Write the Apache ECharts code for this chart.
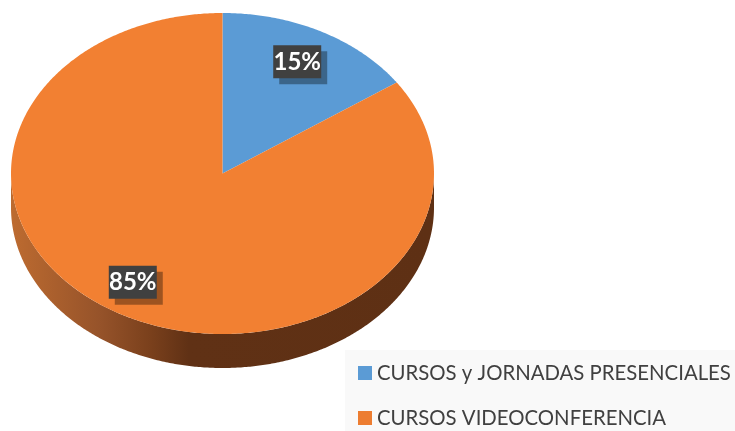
<!DOCTYPE html>
<html>
<head>
<meta charset="utf-8">
<style>
  html, body { margin: 0; padding: 0; background: #fff; }
  #chart { width: 735px; height: 431px; }
</style>
<script src="https://cdn.jsdelivr.net/npm/echarts@6/dist/echarts.min.js"></script>
</head>
<body>
<div id="chart"></div>
<script>
const categories = ['CURSOS y JORNADAS PRESENCIALES', 'CURSOS VIDEOCONFERENCIA'];
const shares = [15.4, 84.6];
const colors = ['#5B9BD5', '#ED7D31'];
const topColors = ['#5B9BD5', '#F28032'];

// ellipse of the tilted pie
const cx = 222.5, cy = 173.5, rx = 211.5, ry = 160.5, depth = 34;
// label shift from the mid angle spot, per slice
const labelShift = [[-3, 0], [-12, -4]];
const total = shares.reduce((a, b) => a + b, 0);

const pt = (deg, dy) => {
  const a = deg * Math.PI / 180;
  return [cx + rx * Math.sin(a), cy + dy - ry * Math.cos(a)];
};

const arc = (from, to, dy) => {
  const pts = [];
  const steps = Math.max(2, Math.ceil(Math.abs(to - from) * 2));
  for (let i = 0; i <= steps; i++) pts.push(pt(from + (to - from) * i / steps, dy));
  return pts;
};

const makeItem = (index) => (params, api) => {
  const start = shares.slice(0, index).reduce((a, b) => a + b, 0) / total * 360;
  const end = start + api.value(0) / total * 360;
  const children = [];

  // side wall, only the part facing the viewer
  const wallFrom = Math.max(start, 90), wallTo = Math.min(end, 270);
  if (wallTo > wallFrom) {
    children.push({
      type: 'polygon',
      shape: { points: arc(wallFrom, wallTo, depth).concat(arc(wallTo, wallFrom, 0)) },
      style: {
        fill: new echarts.graphic.LinearGradient(0, 0, 1, 0, [
          { offset: 0, color: '#BD6B30' },
          { offset: 0.21, color: '#96532A' },
          { offset: 0.33, color: '#7A401C' },
          { offset: 0.42, color: '#603115' },
          { offset: 1, color: '#5E3014' }
        ])
      }
    });
  }

  children.push({
    type: 'polygon',
    shape: { points: [[cx, cy]].concat(arc(start, end, 0)) },
    style: { fill: topColors[index] }
  });

  const mid = pt((start + end) / 2, 0);
  const lx = cx + (mid[0] - cx) * 0.79 + labelShift[index][0];
  const ly = cy + (mid[1] - cy) * 0.79 + labelShift[index][1];
  children.push({
    type: 'rect',
    shape: { x: lx - 24 + 6, y: ly - 16 + 6, width: 48, height: 33 },
    style: { fill: 'rgba(0,0,0,0.35)' }
  });
  children.push({
    type: 'rect',
    shape: { x: lx - 24, y: ly - 16, width: 48, height: 33 },
    style: { fill: '#404040' }
  });
  children.push({
    type: 'text',
    style: {
      x: lx, y: ly + 1,
      text: Math.round(api.value(0) / total * 100) + '%',
      fill: '#fff',
      font: 'bold 24px Lato',
      align: 'center',
      verticalAlign: 'middle'
    }
  });
  return { type: 'group', children };
};

const chart = echarts.init(document.getElementById('chart'));
chart.setOption({
  animation: false,
  color: colors,
  graphic: [{
    type: 'rect',
    z: -1,
    shape: { x: 345, y: 350, width: 390, height: 81 },
    style: { fill: '#F9F9F9' }
  }],
  legend: {
    data: categories,
    orient: 'vertical',
    left: 358,
    top: 363,
    padding: 0,
    itemWidth: 14,
    itemHeight: 14,
    itemGap: 25,
    icon: 'rect',
    textStyle: { color: '#404040', fontFamily: 'Lato', fontSize: 20.35 }
  },
  series: categories.map((name, i) => ({
    type: 'custom',
    name,
    coordinateSystem: 'none',
    renderItem: makeItem(i),
    data: [[shares[i]]],
    silent: true
  }))
});
</script>
</body>
</html>
